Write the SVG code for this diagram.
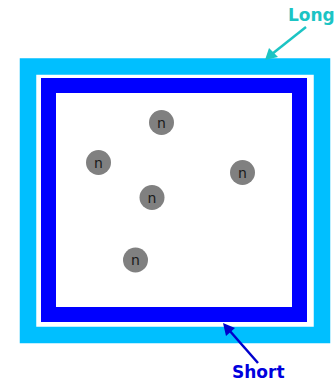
<svg xmlns="http://www.w3.org/2000/svg" width="334" height="381" viewBox="0 0 334 381">
<defs>
<style>
.lbl{font-family:"DejaVu Sans",Verdana,sans-serif;font-weight:bold;font-size:17px}
.node circle{fill:#808080}
.node text{font-family:"DejaVu Sans",Verdana,sans-serif;font-size:14px;fill:#1a1a1a;text-anchor:middle}
</style>
</defs>
<rect width="334" height="381" fill="#ffffff"/>
<g id="long-frame"><rect x="28" y="66.5" width="294" height="268.5" fill="none" stroke="#00bfff" stroke-width="16.5"/></g>
<g id="short-frame"><rect x="48.5" y="85.5" width="251" height="229" fill="none" stroke="#0000ff" stroke-width="15"/></g>
<g id="connectors">
<line x1="306" y1="27" x2="272" y2="54" stroke="#1cc4c4" stroke-width="2.5"/>
<polygon points="265,60 269,48 278,57" fill="#1cc4c4"/>
<line x1="258" y1="363" x2="229" y2="330" stroke="#0000cc" stroke-width="2.5"/>
<polygon points="223,323 235,328 226,336" fill="#0000cc"/>
</g>
<g id="label-long"><text class="lbl" x="288" y="21" fill="#1cc4c4">Long</text></g>
<g id="label-short"><text class="lbl" x="232" y="378" fill="#0000dd">Short</text></g>
<g id="n1" class="node"><circle cx="161.5" cy="122.5" r="12.5"/><text x="161.5" y="127.5">n</text></g>
<g id="n2" class="node"><circle cx="98.5" cy="162.5" r="12.5"/><text x="98.5" y="167.5">n</text></g>
<g id="n3" class="node"><circle cx="242.5" cy="172.5" r="12.5"/><text x="242.5" y="177.5">n</text></g>
<g id="n4" class="node"><circle cx="152" cy="197.5" r="12.5"/><text x="152" y="202.5">n</text></g>
<g id="n5" class="node"><circle cx="135.5" cy="260" r="12.5"/><text x="135.5" y="265">n</text></g>
</svg>
